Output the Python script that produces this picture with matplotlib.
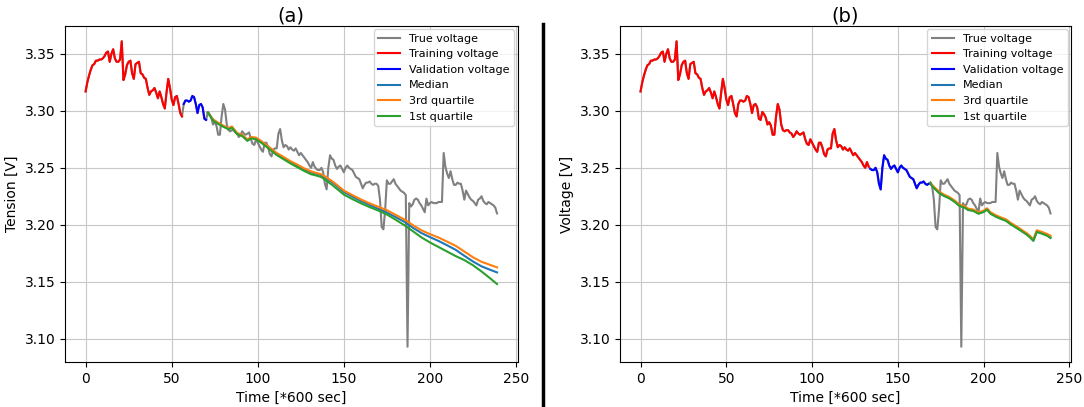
import numpy as np
import matplotlib
matplotlib.use("Agg")
import matplotlib.pyplot as plt
from matplotlib.lines import Line2D

# measured voltage, one sample every 600 s (t = 0..239)
true_voltage = [
    3.317, 3.325, 3.331, 3.336, 3.340, 3.341, 3.344, 3.344, 3.345, 3.345,
    3.346, 3.348, 3.351, 3.352, 3.343, 3.350, 3.354, 3.346, 3.343, 3.343,
    3.345, 3.361, 3.327, 3.332, 3.340, 3.343, 3.344, 3.333, 3.328, 3.341,
    3.342, 3.343, 3.333, 3.332, 3.329, 3.328, 3.320, 3.314, 3.317, 3.318,
    3.320, 3.316, 3.311, 3.317, 3.312, 3.306, 3.302, 3.316, 3.328, 3.320,
    3.310, 3.305, 3.312, 3.313, 3.306, 3.298, 3.295, 3.306, 3.309, 3.309,
    3.308, 3.309, 3.313, 3.312, 3.306, 3.298, 3.305, 3.306, 3.303, 3.293,
    3.292, 3.299, 3.297, 3.294, 3.288, 3.290, 3.287, 3.279, 3.279, 3.295,
    3.306, 3.301, 3.288, 3.283, 3.282, 3.283, 3.283, 3.281, 3.280, 3.277,
    3.279, 3.282, 3.280, 3.279, 3.280, 3.281, 3.275, 3.271, 3.270, 3.275,
    3.272, 3.269, 3.266, 3.264, 3.272, 3.272, 3.268, 3.262, 3.260, 3.266,
    3.267, 3.267, 3.280, 3.284, 3.274, 3.268, 3.270, 3.269, 3.266, 3.268,
    3.266, 3.265, 3.267, 3.264, 3.261, 3.263, 3.261, 3.259, 3.257, 3.255,
    3.252, 3.250, 3.255, 3.251, 3.249, 3.248, 3.248, 3.250, 3.246, 3.236,
    3.231, 3.250, 3.261, 3.258, 3.257, 3.252, 3.249, 3.251, 3.252, 3.249,
    3.246, 3.250, 3.252, 3.250, 3.249, 3.248, 3.245, 3.242, 3.241, 3.240,
    3.236, 3.232, 3.235, 3.237, 3.237, 3.238, 3.236, 3.235, 3.236, 3.236,
    3.234, 3.222, 3.198, 3.196, 3.213, 3.239, 3.236, 3.236, 3.238, 3.240,
    3.236, 3.234, 3.232, 3.230, 3.229, 3.228, 3.226, 3.093, 3.219, 3.216,
    3.218, 3.222, 3.223, 3.222, 3.219, 3.217, 3.214, 3.211, 3.223, 3.217,
    3.219, 3.220, 3.219, 3.219, 3.219, 3.220, 3.220, 3.220, 3.263, 3.251,
    3.245, 3.241, 3.247, 3.240, 3.235, 3.235, 3.237, 3.236, 3.236, 3.230,
    3.222, 3.230, 3.227, 3.224, 3.222, 3.221, 3.219, 3.217, 3.222, 3.223,
    3.225, 3.221, 3.219, 3.218, 3.220, 3.219, 3.218, 3.217, 3.215, 3.210,
]

# (a) split: training / validation end indices (inclusive)
a_train_end, a_val_start, a_val_end = 56, 57, 70
# (b) split
b_train_end, b_val_start, b_val_end = 133, 134, 168

# forecast quantiles, panel (a)
a_t = [71, 74, 77, 80, 83, 85, 88, 91, 94, 96, 99, 102, 105, 108, 111, 115,
       119, 123, 127, 131, 134, 137, 140, 143, 146, 150, 155, 160, 165, 170,
       175, 180, 185, 190, 195, 200, 205, 210, 215, 220, 225, 230, 235, 239]
a_q3 = [3.2985, 3.2925, 3.2895, 3.2870, 3.2848, 3.2862, 3.2805, 3.2790, 3.2748,
        3.2770, 3.2765, 3.2735, 3.2700, 3.2665, 3.2630, 3.2595, 3.2558, 3.2528,
        3.2495, 3.2468, 3.2455, 3.2443, 3.2415, 3.2385, 3.2350, 3.2300, 3.2260,
        3.2222, 3.2188, 3.2158, 3.2128, 3.2088, 3.2048, 3.1998, 3.1952, 3.1918,
        3.1888, 3.1852, 3.1815, 3.1765, 3.1715, 3.1675, 3.1648, 3.1626]
a_median = [3.2985, 3.2920, 3.2890, 3.2865, 3.2843, 3.2857, 3.2800, 3.2785,
            3.2742, 3.2765, 3.2758, 3.2728, 3.2693, 3.2658, 3.2622, 3.2587,
            3.2550, 3.2520, 3.2487, 3.2460, 3.2448, 3.2435, 3.2405, 3.2375,
            3.2340, 3.2288, 3.2247, 3.2208, 3.2173, 3.2140, 3.2108, 3.2068,
            3.2028, 3.1975, 3.1928, 3.1892, 3.1858, 3.1820, 3.1780, 3.1728,
            3.1678, 3.1635, 3.1605, 3.1582]
a_q1 = [3.2985, 3.2915, 3.2885, 3.2860, 3.2838, 3.2850, 3.2795, 3.2778, 3.2736,
        3.2758, 3.2750, 3.2720, 3.2685, 3.2648, 3.2612, 3.2575, 3.2538, 3.2505,
        3.2472, 3.2443, 3.2432, 3.2418, 3.2385, 3.2352, 3.2315, 3.2265, 3.2225,
        3.2188, 3.2155, 3.2125, 3.2090, 3.2045, 3.1998, 3.1945, 3.1890, 3.1845,
        3.1805, 3.1765, 3.1725, 3.1690, 3.1645, 3.1590, 3.1530, 3.1480]

# forecast quantiles, panel (b)
b_t = [169, 170, 172, 174, 177, 180, 183, 186, 189, 191, 194, 197, 200, 202,
       204, 207, 210, 213, 216, 219, 222, 225, 227, 229, 231, 234, 237, 239]
b_q3 = [3.2369, 3.2348, 3.2320, 3.2291, 3.2264, 3.2244, 3.2214, 3.2177, 3.2162,
        3.2141, 3.2134, 3.2109, 3.2124, 3.2145, 3.2110, 3.2085, 3.2065, 3.2048,
        3.2015, 3.1987, 3.1958, 3.1928, 3.1903, 3.1872, 3.1952, 3.1937, 3.1920,
        3.1903]
b_median = [3.2369, 3.2340, 3.2312, 3.2282, 3.2255, 3.2235, 3.2205, 3.2168,
            3.2153, 3.2132, 3.2125, 3.2100, 3.2115, 3.2136, 3.2100, 3.2075,
            3.2055, 3.2038, 3.2005, 3.1977, 3.1948, 3.1918, 3.1893, 3.1862,
            3.1940, 3.1925, 3.1908, 3.1890]
b_q1 = [3.2369, 3.2337, 3.2309, 3.2279, 3.2252, 3.2232, 3.2202, 3.2165, 3.2150,
        3.2129, 3.2122, 3.2097, 3.2112, 3.2133, 3.2097, 3.2072, 3.2052, 3.2035,
        3.2002, 3.1974, 3.1945, 3.1915, 3.1890, 3.1859, 3.1937, 3.1922, 3.1904,
        3.1884]


def draw_panel(ax, title, ylabel, split, fc_t, q3, med, q1):
    t = np.arange(len(true_voltage))
    v = np.array(true_voltage)
    tr_end, va_start, va_end = split
    ax.plot(t, v, color='grey', label='True voltage')
    ax.plot(t[:tr_end + 1], v[:tr_end + 1], color='red', label='Training voltage')
    ax.plot(t[va_start:va_end + 1], v[va_start:va_end + 1], color='blue',
            label='Validation voltage')
    ax.plot(fc_t, med, color='tab:blue', label='Median')
    ax.plot(fc_t, q3, color='tab:orange', label='3rd quartile')
    ax.plot(fc_t, q1, color='tab:green', label='1st quartile')
    ax.set_title(title, fontsize=14, pad=3)
    ax.set_xlabel('Time [*600 sec]', fontsize=10)
    ax.set_ylabel(ylabel, fontsize=10)
    ax.set_xticks([0, 50, 100, 150, 200, 250])
    ax.set_yticks([3.10, 3.15, 3.20, 3.25, 3.30, 3.35])
    ax.grid(True, color='#c8c8c8')
    ax.legend(loc='upper right', fontsize=8, borderaxespad=0.3)


plt.rcParams['font.family'] = ['DejaVu Sans']
fig = plt.figure(figsize=(10.84, 4.07), dpi=100)
ax_a = fig.add_axes([0.060, 0.1106, 0.4175, 0.8255])
ax_b = fig.add_axes([0.572, 0.1106, 0.416, 0.8255])

draw_panel(ax_a, '(a)', 'Tension [V]', (a_train_end, a_val_start, a_val_end),
           a_t, a_q3, a_median, a_q1)
draw_panel(ax_b, '(b)', 'Voltage [V]', (b_train_end, b_val_start, b_val_end),
           b_t, b_q3, b_median, b_q1)

# separator between the two panels
fig.add_artist(Line2D([0.501, 0.501], [0.0, 0.94], transform=fig.transFigure,
                      color='black', linewidth=2.5))

fig.savefig('out.png', dpi=100)
